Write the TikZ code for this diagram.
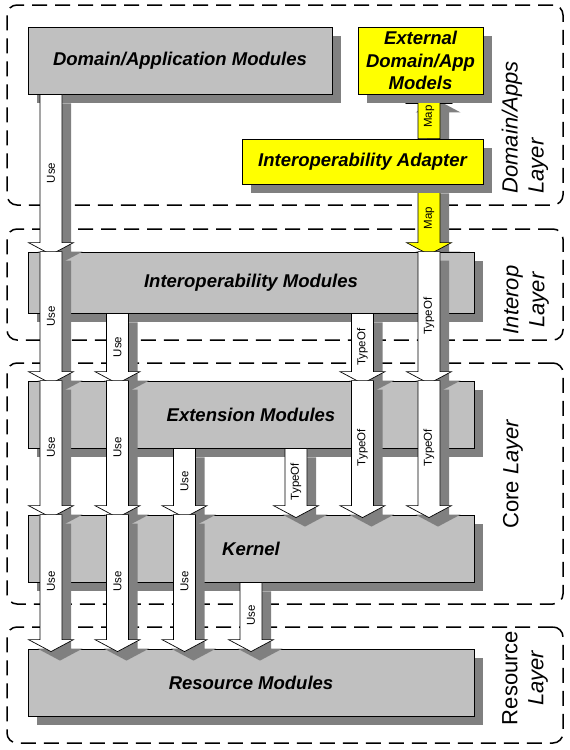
\documentclass[tikz,border=0pt]{standalone}
\usepackage{fontspec}
\setmainfont{Liberation Sans}
\usetikzlibrary{shadows, calc}
\definecolor{boxgray}{RGB}{192,192,192}
\definecolor{shadowgray}{RGB}{128,128,128}
\definecolor{modelyellow}{RGB}{255,255,0}
\pgfdeclarelayer{back}
\pgfsetlayers{back,main}

% fat block arrow: [fill]{column}{from}{to}{label}
\newcommand{\fatarrow}[5][white]{%
  \draw[fatbody, fill=#1] let \p1=(#2 |- #3), \p2=(#2 |- #4),
      \n1={ifthenelse(\y2<\y1,1,-1)} in
    (\x1-11pt,\y1) -- (\x1-11pt,\y2+\n1*9pt) -- (\x1-22.5pt,\y2+\n1*9pt)
    -- (\x1,\y2-\n1*3pt) -- (\x1+22.5pt,\y2+\n1*9pt)
    -- (\x1+11pt,\y2+\n1*9pt) -- (\x1+11pt,\y1) -- cycle;
  \path let \p1=(#2 |- #3), \p2=(#2 |- #4) in
    node[arrowlabel] at (\x1,{(\y1+\y2)/2}) {#5};
}

\begin{document}
\begin{tikzpicture}[x=1pt, y=-1pt,
  shadowed/.style={drop shadow={shadow xshift=9pt, shadow yshift=-9pt, fill=shadowgray, opacity=1}},
  module/.style={draw, line width=0.8pt, fill=boxgray, shadowed, inner sep=0pt, align=center,
    font=\fontsize{18.5}{22.5}\selectfont\bfseries\itshape},
  model/.style={module, fill=modelyellow},
  layer/.style={draw, line width=1.5pt, dash pattern=on 15pt off 8pt, rounded corners=10pt,
    minimum width=556pt, inner sep=0pt},
  layerlabel/.style={rotate=90, align=center, font=\fontsize{22}{26}\selectfont},
  fatbody/.style={draw, line width=0.7pt, shadowed},
  arrowlabel/.style={rotate=90, inner sep=0pt, font=\fontsize{11.5}{13}\selectfont}
]
\useasboundingbox (0,0) rectangle (570,750);

% Domain/Apps layer
\node[module, minimum width=304pt, minimum height=67pt] (dommod) at (180,60.5) {Domain/Application Modules};
\node[model, minimum width=125pt, minimum height=67pt] (extmodels) at (420.5,60.5) {External\\Domain/App\\Models};
\node[model, minimum width=241pt, minimum height=45pt] (adapter) at (362.5,161.5) {Interoperability Adapter};

% Interop, core and resource layers
\node[module, minimum width=446pt, minimum height=61pt] (intmod) at (251,282.5) {Interoperability Modules};
\node[module, minimum width=446pt, minimum height=67pt] (extnmod) at (251,414.5) {Extension Modules};
\node[module, minimum width=446pt, minimum height=67pt] (kernel) at (251,548.5) {Kernel};
\node[module, minimum width=446pt, minimum height=67pt] (resmod) at (251,682.5) {Resource Modules};

% Arrow columns
\foreach \name/\x in {col1/51, col2/117.5, col3/184.5, col4/251, colA/296, colB/362.5, colC/429}
  \coordinate (\name) at (\x,0);

% Layer frames and map arrows (behind the boxes)
\begin{pgfonlayer}{back}
\node[layer, minimum height=200pt] (domlayer) at (285,105) {};
\node[layer, minimum height=111pt] (intlayer) at (285,284.5) {};
\node[layer, minimum height=241pt] (corelayer) at (285,483.5) {};
\node[layer, minimum height=116pt] (reslayer) at (285,685) {};
\fatarrow[modelyellow]{colC}{adapter.north}{extmodels.south}{Map}
\fatarrow[modelyellow]{colC}{adapter.south}{intmod.north}{Map}
\end{pgfonlayer}

% Layer labels
\node[layerlabel, font=\fontsize{22}{26}\selectfont\itshape, align=left, anchor=west] (domlabel) at (525,197) {Domain/Apps\\Layer};
\node[layerlabel, font=\fontsize{22}{26}\selectfont\itshape] (intlabel) at (526,300) {Interop\\Layer};
\node[layerlabel] (corelabel) at (513,474) {Core \textit{Layer}};
\node[layerlabel] (reslabel) at (525,678) {Resource\\\textit{Layer}};

% Use arrows
\fatarrow{col1}{dommod.south}{intmod.north}{Use}
\fatarrow{col1}{intmod.north}{extnmod.north}{Use}
\fatarrow{col1}{extnmod.north}{kernel.north}{Use}
\fatarrow{col1}{kernel.north}{resmod.north}{Use}
\fatarrow{col2}{intmod.south}{extnmod.north}{Use}
\fatarrow{col2}{extnmod.north}{kernel.north}{Use}
\fatarrow{col2}{kernel.north}{resmod.north}{Use}
\fatarrow{col3}{extnmod.south}{kernel.north}{Use}
\fatarrow{col3}{kernel.north}{resmod.north}{Use}
\fatarrow{col4}{kernel.south}{resmod.north}{Use}

% TypeOf arrows
\fatarrow{colA}{extnmod.south}{kernel.north}{TypeOf}
\fatarrow{colB}{intmod.south}{extnmod.north}{TypeOf}
\fatarrow{colB}{extnmod.north}{kernel.north}{TypeOf}
\fatarrow{colC}{intmod.north}{extnmod.north}{TypeOf}
\fatarrow{colC}{extnmod.north}{kernel.north}{TypeOf}
\end{tikzpicture}
\end{document}
